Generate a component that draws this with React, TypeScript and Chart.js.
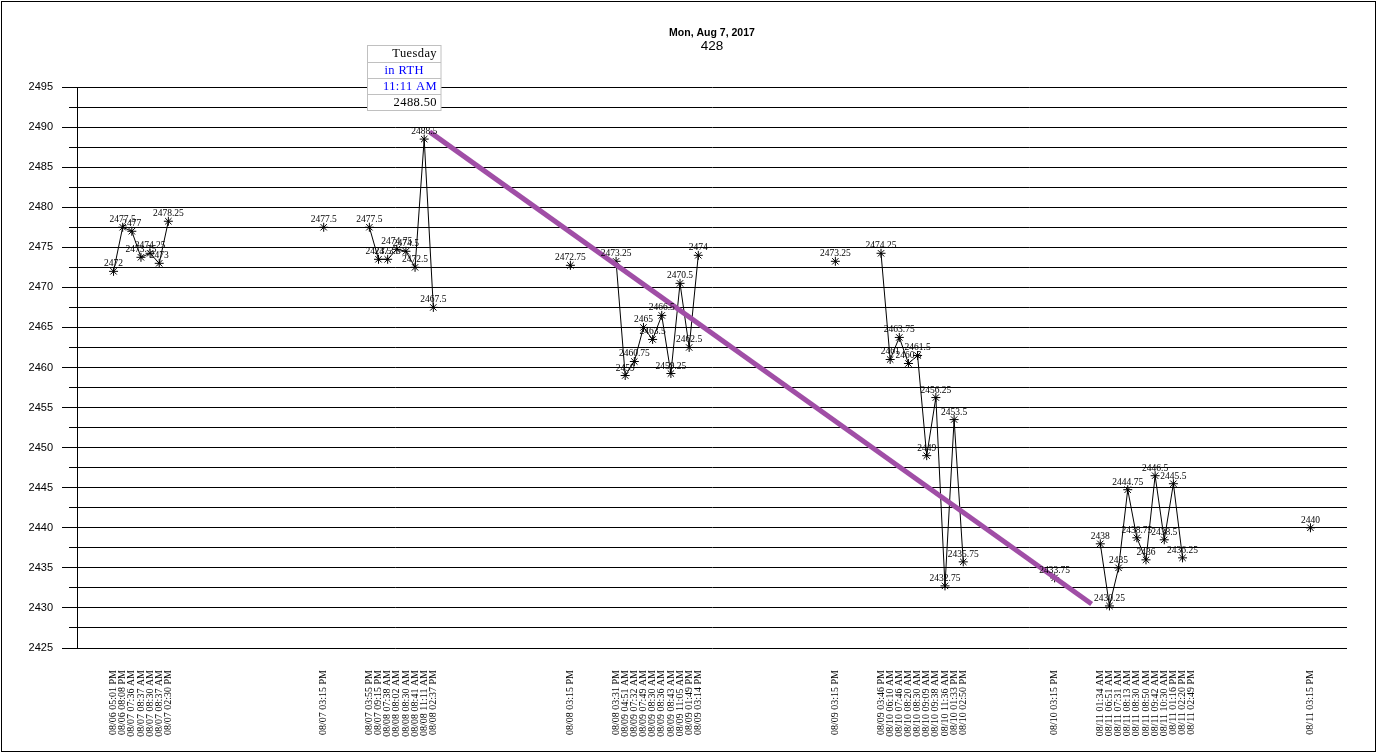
import React, { useEffect, useRef } from 'react';
import { Chart, registerables } from 'chart.js';

Chart.register(...registerables);

// ---------- data ----------
const blank = (n: number): string[] => Array(n).fill('');
const none = (n: number): (number | null)[] => Array(n).fill(null);

const titleText = 'Mon, Aug 7, 2017';
const subtitleText = '428';

const session1Labels = ['08/06 05:01 PM', '08/06 08:08 PM', '08/07 07:36 AM', '08/07 08:37 AM', '08/07 08:30 AM', '08/07 08:37 AM', '08/07 02:30 PM'];
const session1Values = [2472, 2477.5, 2477, 2473.75, 2474.25, 2473, 2478.25];
const close1Label = '08/07 03:15 PM';
const close1Value = 2477.5;

const session2Labels = ['08/07 03:55 PM', '08/07 09:15 PM', '08/08 07:38 AM', '08/08 08:02 AM', '08/08 08:30 AM', '08/08 08:41 AM', '08/08 11:11 AM', '08/08 02:37 PM'];
const session2Values = [2477.5, 2473.5, 2473.5, 2474.75, 2474.5, 2472.5, 2488.5, 2467.5];
const close2Label = '08/08 03:15 PM';
const close2Value = 2472.75;

const session3Labels = ['08/08 03:31 PM', '08/09 04:51 AM', '08/09 07:32 AM', '08/09 07:49 AM', '08/09 08:30 AM', '08/09 08:36 AM', '08/09 08:43 AM', '08/09 11:05 AM', '08/09 01:49 PM', '08/09 03:14 PM'];
const session3Values = [2473.25, 2459, 2460.75, 2465, 2463.5, 2466.5, 2459.25, 2470.5, 2462.5, 2474];
const close3Label = '08/09 03:15 PM';
const close3Value = 2473.25;

const session4Labels = ['08/09 03:46 PM', '08/10 06:10 AM', '08/10 07:46 AM', '08/10 08:20 AM', '08/10 08:30 AM', '08/10 09:09 AM', '08/10 09:38 AM', '08/10 11:36 AM', '08/10 01:33 PM', '08/10 02:50 PM'];
const session4Values = [2474.25, 2461, 2463.75, 2460.5, 2461.5, 2449, 2456.25, 2432.75, 2453.5, 2435.75];
const close4Label = '08/10 03:15 PM';
const close4Value = 2433.75;

const session5Labels = ['08/11 01:34 AM', '08/11 06:51 AM', '08/11 07:31 AM', '08/11 08:13 AM', '08/11 08:30 AM', '08/11 08:50 AM', '08/11 09:42 AM', '08/11 10:30 AM', '08/11 01:16 PM', '08/11 02:20 PM', '08/11 02:49 PM'];
const session5Values: (number | null)[] = [2438, 2430.25, 2435, 2444.75, 2438.75, 2436, 2446.5, 2438.5, 2445.5, 2436.25, null];
const close5Label = '08/11 03:15 PM';
const close5Value = 2440;

// categories include empty time slots so the sessions keep their spacing
const categories: string[] = [
  ...blank(4), ...session1Labels, ...blank(16), close1Label,
  ...blank(4), ...session2Labels, ...blank(14), close2Label,
  ...blank(4), ...session3Labels, ...blank(14), close3Label,
  ...blank(4), ...session4Labels, ...blank(9), close4Label,
  ...blank(4), ...session5Labels, ...blank(12), close5Label,
  ...blank(4),
];
const values: (number | null)[] = [
  ...none(4), ...session1Values, ...none(16), close1Value,
  ...none(4), ...session2Values, ...none(14), close2Value,
  ...none(4), ...session3Values, ...none(14), close3Value,
  ...none(4), ...session4Values, ...none(9), close4Value,
  ...none(4), ...session5Values, ...none(12), close5Value,
  ...none(4),
];

// trend line (x in category-slot units)
const trendX = [38.6, 111.05];
const trendY = [2489.4, 2430.5];

const yMin = 2425;
const yMax = 2495;

// callout
const calloutCategory = '08/08 11:11 AM';
const calloutLines = ['Tuesday', 'in RTH', '11:11 AM', '2488.50'];
const calloutColors = ['#000000', '#0000ff', '#0000ff', '#000000'];
const calloutAlign: CanvasTextAlign[] = ['right', 'center', 'right', 'right'];

// ---------- plugins ----------
const framePlugin = {
  id: 'frame',
  beforeDraw(chart: any) {
    const ctx = chart.ctx;
    ctx.save();
    ctx.fillStyle = '#ffffff';
    ctx.fillRect(0, 0, chart.width, chart.height);
    ctx.strokeStyle = '#000000';
    ctx.lineWidth = 1;
    ctx.strokeRect(1.5, 1.5, 1374, 750);
    ctx.restore();
  },
};

const titlePlugin = {
  id: 'titles',
  afterDraw(chart: any) {
    const { ctx, chartArea } = chart;
    const cx = (chartArea.left + chartArea.right) / 2;
    ctx.save();
    ctx.fillStyle = '#000';
    ctx.textAlign = 'center';
    ctx.textBaseline = 'middle';
    ctx.font = 'bold 10.5px "Liberation Sans", Arial, sans-serif';
    ctx.fillText(titleText, cx, 33);
    ctx.font = '13.5px "Liberation Sans", Arial, sans-serif';
    ctx.fillText(subtitleText, cx, 46.5);
    ctx.restore();
  },
};

const pointLabelPlugin = {
  id: 'pointLabels',
  afterDatasetsDraw(chart: any) {
    const ctx = chart.ctx;
    const meta = chart.getDatasetMeta(0);
    ctx.save();
    ctx.font = '9.5px "Liberation Serif", "Times New Roman", serif';
    ctx.fillStyle = '#000';
    ctx.textAlign = 'center';
    ctx.textBaseline = 'alphabetic';
    meta.data.forEach((el: any, i: number) => {
      const v = values[i];
      if (v === null || v === undefined) return;
      ctx.fillText(String(v), el.x, el.y - 5);
    });
    ctx.restore();
  },
};

const calloutPlugin = {
  id: 'callout',
  afterDraw(chart: any) {
    const idx = categories.indexOf(calloutCategory);
    const el = chart.getDatasetMeta(0).data[idx];
    if (!el) return;
    const ctx = chart.ctx;
    const w = 73.5;
    const rowH = 16.25;
    const left = Math.round(el.x - 57) + 0.5;
    const top = Math.round(el.y - 94.5) + 0.5;
    ctx.save();
    ctx.fillStyle = '#ffffff';
    ctx.fillRect(left, top, w, rowH * calloutLines.length);
    ctx.strokeStyle = '#c0c0c0';
    ctx.lineWidth = 1;
    ctx.strokeRect(left, top, w, rowH * calloutLines.length);
    for (let r = 1; r < calloutLines.length; r++) {
      const yy = Math.round(top + r * rowH) + 0.5;
      ctx.beginPath();
      ctx.moveTo(left, yy);
      ctx.lineTo(left + w, yy);
      ctx.stroke();
    }
    ctx.font = '12.5px "Liberation Serif", "Times New Roman", serif';
    (ctx as any).letterSpacing = '0.4px';
    ctx.textBaseline = 'middle';
    calloutLines.forEach((t, r) => {
      ctx.fillStyle = calloutColors[r];
      ctx.textAlign = calloutAlign[r];
      const cy = top + r * rowH + rowH / 2 + 0.5;
      const tx = calloutAlign[r] === 'center' ? left + w / 2 : left + w - 4;
      ctx.fillText(t, tx, cy);
    });
    ctx.restore();
  },
};

// ---------- component ----------
export default function App() {
  const canvasRef = useRef<HTMLCanvasElement | null>(null);

  useEffect(() => {
    document.body.style.margin = '0';
    const canvas = canvasRef.current;
    if (!canvas) return;
    const chart = new Chart(canvas, {
      type: 'line',
      data: {
        labels: categories,
        datasets: [
          {
            label: 'price',
            data: values,
            xAxisID: 'x',
            yAxisID: 'y',
            borderColor: '#000000',
            borderWidth: 1,
            tension: 0,
            spanGaps: false,
            pointStyle: 'star',
            pointRadius: 4.5,
            pointBorderColor: '#000000',
            pointBorderWidth: 1,
            pointBackgroundColor: '#000000',
            order: 1,
          },
          {
            label: 'trend',
            data: trendX.map((x, i) => ({ x, y: trendY[i] })),
            xAxisID: 'xt',
            yAxisID: 'y',
            borderColor: '#a04ea6',
            borderWidth: 5,
            pointRadius: 0,
            tension: 0,
            order: 0,
          } as any,
        ],
      },
      options: {
        responsive: false,
        animation: false,
        devicePixelRatio: 1,
        layout: { padding: { top: 87, left: 0, right: 35, bottom: 0 } },
        plugins: {
          legend: { display: false },
          title: { display: false },
          tooltip: { enabled: false },
        },
        events: [],
        scales: {
          x: {
            type: 'category',
            offset: false,
            grid: { display: false, drawTicks: false },
            border: { display: false },
            afterFit: (scale: any) => { scale.height = 106; },
            ticks: {
              autoSkip: false,
              maxRotation: 90,
              minRotation: 90,
              padding: 22,
              color: '#000',
              font: { family: '"Liberation Serif", "Times New Roman", serif', size: 10 },
            },
          },
          xt: {
            type: 'linear',
            display: false,
            min: 0,
            max: categories.length - 1,
          },
          y: {
            type: 'linear',
            position: 'left',
            weight: 0,
            min: yMin,
            max: yMax,
            afterFit: (scale: any) => { scale.width = 8; },
            grid: { color: '#000', tickColor: '#000', tickLength: 8, lineWidth: 1 },
            border: { display: true, color: '#000' },
            ticks: { display: false, stepSize: 2.5 },
          },
          y2: {
            type: 'linear',
            position: 'left',
            weight: 1,
            min: yMin,
            max: yMax,
            afterFit: (scale: any) => { scale.width = 69; },
            grid: { drawOnChartArea: false, color: '#000', tickColor: '#000', tickLength: 7 },
            border: { display: false },
            ticks: {
              stepSize: 5,
              padding: 9,
              color: '#000',
              font: { family: '"Liberation Sans", Arial, sans-serif', size: 11 },
              callback: (v: any) => String(v),
            },
          },
        },
      } as any,
      plugins: [framePlugin, titlePlugin, pointLabelPlugin, calloutPlugin],
    });
    return () => chart.destroy();
  }, []);

  return (
    <div style={{ width: 1382, height: 754 }}>
      <canvas ref={canvasRef} width={1382} height={754} style={{ display: 'block' }} />
    </div>
  );
}
